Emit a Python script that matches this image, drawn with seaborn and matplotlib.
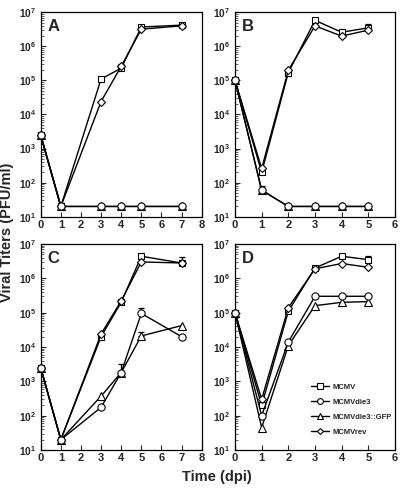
import numpy as np
import pandas as pd
import matplotlib
matplotlib.use("Agg")
import matplotlib.pyplot as plt
import seaborn as sns
from matplotlib.ticker import FixedLocator, LogLocator, NullFormatter, FuncFormatter

sns.set_theme(style="ticks")
plt.rcParams['font.family'] = ['Liberation Sans', 'DejaVu Sans']
plt.rcParams['font.weight'] = 'bold'
plt.rcParams['mathtext.fontset'] = 'custom'
plt.rcParams['mathtext.rm'] = 'Liberation Sans:bold'
plt.rcParams['mathtext.bf'] = 'Liberation Sans:bold'
plt.rcParams['mathtext.default'] = 'bf'

series_names = ["MCMV", "MCMVdie3", "MCMVdie3::GFP", "MCMVrev"]
series_markers = {"MCMV": "s", "MCMVdie3": "o", "MCMVdie3::GFP": "^", "MCMVrev": "D"}
series_msize = {"MCMV": 5.0, "MCMVdie3": 5.2, "MCMVdie3::GFP": 5.2, "MCMVrev": 3.8}
draw_order = ["MCMV", "MCMVrev", "MCMVdie3::GFP", "MCMVdie3"]

# Panel A
a_days = [0, 1, 3, 4, 5, 7]
a_mcmv = [2500, 20, 1.1e5, 2.3e5, 3.7e6, 4.2e6]
a_die3 = [2500, 20, 20, 20, 20, 20]
a_gfp = [2500, 20, 20, 20, 20, 20]
a_rev = [2500, 20, 2.4e4, 2.6e5, 3.2e6, 4.0e6]

# Panel B
b_days = [0, 1, 2, 3, 4, 5]
b_mcmv = [1e5, 200, 1.7e5, 5.8e6, 2.6e6, 3.5e6]
b_die3 = [1e5, 60, 20, 20, 20, 20]
b_gfp = [1e5, 60, 20, 20, 20, 20]
b_rev = [1e5, 260, 2.0e5, 4.0e6, 2.0e6, 3.0e6]

# Panel C
c_days = [0, 1, 3, 4, 5, 7]
c_mcmv = [2500, 20, 2.0e4, 2.0e5, 4.4e6, 2.8e6]
c_die3 = [2500, 20, 175, 1800, 9.5e4, 2.0e4]
c_gfp = [2500, 20, 370, 1800, 2.1e4, 4.2e4]
c_rev = [2500, 20, 2.4e4, 2.2e5, 3.0e6, 2.8e6]

# Panel D
d_days = [0, 1, 2, 3, 4, 5]
d_mcmv = [1e5, 200, 1.1e5, 2.0e6, 4.4e6, 3.5e6]
d_die3 = [1e5, 100, 1.4e4, 3.0e5, 3.0e5, 3.0e5]
d_gfp = [1e5, 45, 1.1e4, 1.6e5, 2.0e5, 2.1e5]
d_rev = [1e5, 300, 1.4e5, 1.9e6, 2.7e6, 2.1e6]

# Upper error bar tops (panel, series, day, top value)
err_panel = ["A", "A", "B", "B", "C", "C", "C", "C", "D", "D"]
err_series = ["MCMV", "MCMV", "MCMV", "MCMVdie3", "MCMV", "MCMVdie3", "MCMVdie3::GFP", "MCMVdie3",
              "MCMV", "MCMVdie3"]
err_day = [7, 4, 5, 1, 7, 5, 5, 4, 5, 5]
err_top = [4.9e6, 3.1e5, 4.6e6, 80, 4.2e6, 1.35e5, 2.8e4, 3.2e3, 4.6e6, 3.6e5]

panels = {
    "A": (a_days, {"MCMV": a_mcmv, "MCMVdie3": a_die3, "MCMVdie3::GFP": a_gfp, "MCMVrev": a_rev}, 8),
    "B": (b_days, {"MCMV": b_mcmv, "MCMVdie3": b_die3, "MCMVdie3::GFP": b_gfp, "MCMVrev": b_rev}, 6),
    "C": (c_days, {"MCMV": c_mcmv, "MCMVdie3": c_die3, "MCMVdie3::GFP": c_gfp, "MCMVrev": c_rev}, 8),
    "D": (d_days, {"MCMV": d_mcmv, "MCMVdie3": d_die3, "MCMVdie3::GFP": d_gfp, "MCMVrev": d_rev}, 6),
}

W, H = 403, 490
fig = plt.figure(figsize=(W / 100, H / 100), dpi=100)
rects = {
    "A": (40.7, 12.3, 201.7, 216.7),
    "B": (235.0, 12.3, 395.0, 216.7),
    "C": (40.7, 244.0, 201.7, 450.0),
    "D": (235.0, 244.0, 395.0, 450.0),
}

def fmt(v, pos):
    n = int(round(np.log10(v)))
    return r"10$^{%d}$" % n

for key, (days, data, xmax) in panels.items():
    x0, y0, x1, y1 = rects[key]
    ax = fig.add_axes([x0 / W, 1 - y1 / H, (x1 - x0) / W, (y1 - y0) / H])
    for name in draw_order:
        df = pd.DataFrame({"day": days, "titer": data[name]})
        sns.lineplot(data=df, x="day", y="titer", ax=ax, color="black", lw=1.0,
                     marker=series_markers[name], markersize=series_msize[name],
                     markerfacecolor="white", markeredgecolor="black", markeredgewidth=0.8,
                     label=name, legend=False, zorder=3, clip_on=False)
    for p, s, d, t in zip(err_panel, err_series, err_day, err_top):
        if p != key:
            continue
        yv = data[s][days.index(d)]
        ax.errorbar([d], [yv], yerr=[[0], [t - yv]], fmt="none", ecolor="black",
                    elinewidth=0.9, capsize=2.5, capthick=0.9, zorder=2)
    ax.set_yscale("log")
    ax.set_ylim(10, 1e7)
    ax.set_xlim(0, xmax)
    ax.set_xticks(range(0, xmax + 1))
    ax.yaxis.set_major_locator(FixedLocator([10 ** k for k in range(1, 8)]))
    ax.yaxis.set_major_formatter(FuncFormatter(fmt))
    ax.yaxis.set_minor_locator(LogLocator(base=10, subs=np.arange(2, 10)))
    ax.yaxis.set_minor_formatter(NullFormatter())
    ax.tick_params(axis="x", which="major", direction="in", length=3.5, width=0.8,
                   labelsize=8, pad=2.5)
    ax.tick_params(axis="y", which="major", direction="in", length=3.5, width=0.8,
                   labelsize=7.3, pad=3.5)
    ax.tick_params(axis="y", which="minor", direction="in", length=2, width=0.5)
    for lab in ax.get_xticklabels() + ax.get_yticklabels():
        lab.set_fontweight("bold")
    ax.set_xlabel("")
    ax.set_ylabel("")
    for sp in ax.spines.values():
        sp.set_visible(True)
        sp.set_linewidth(0.9)
        sp.set_color("black")
    ax.text(0.04, 0.965, key, transform=ax.transAxes, fontsize=12, fontweight="bold",
            va="top", ha="left")
    if key == "D":
        handles, labels = ax.get_legend_handles_labels()
        hmap = dict(zip(labels, handles))
        leg = ax.legend([hmap[n] for n in series_names], series_names, loc="upper left",
                        bbox_to_anchor=(0.44, 0.35), frameon=False, markerscale=0.8,
                        prop={"size": 5.5, "weight": "bold"}, handlelength=2.4,
                        handletextpad=0.5, labelspacing=1.0, borderpad=0.2)

fig.text(217 / W, 1 - 477 / H, "Time (dpi)", ha="center", va="center",
         fontsize=10.5, fontweight="bold")
fig.text(7 / W, 1 - 232 / H, "Viral Titers (PFU/ml)", ha="center", va="center",
         rotation=90, fontsize=10.5, fontweight="bold")

fig.savefig("out.png", dpi=100, facecolor="white")
